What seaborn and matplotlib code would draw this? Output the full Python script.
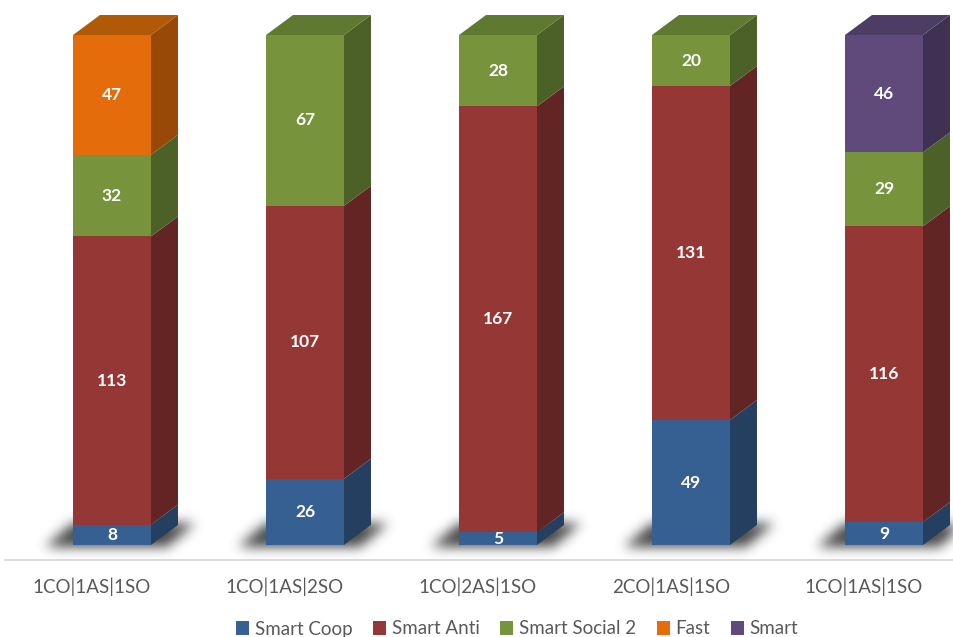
import numpy as np
import pandas as pd
import matplotlib
matplotlib.use("Agg")
import matplotlib.pyplot as plt
import seaborn as sns
from matplotlib.patches import Polygon, Patch
from matplotlib.path import Path
from matplotlib.transforms import ScaledTranslation

# ---- data -------------------------------------------------------------
categories = ["1CO|1AS|1SO", "1CO|1AS|2SO", "1CO|2AS|1SO", "2CO|1AS|1SO", "1CO|1AS|1SO"]
series_names = ["Smart Coop", "Smart Anti", "Smart Social 2", "Fast", "Smart"]
smart_coop = [8, 26, 5, 49, 9]
smart_anti = [113, 107, 167, 131, 116]
smart_social_2 = [32, 67, 28, 20, 29]
fast = [47, 0, 0, 0, 0]
smart = [0, 0, 0, 0, 46]

# ---- colours: front / side / top faces ---------------------------------
front_colors = ["#376092", "#953735", "#77933C", "#E46C0A", "#604A7B"]
side_colors = ["#243F60", "#632523", "#4C6128", "#984807", "#3F3151"]
top_colors = ["#2D5079", "#7C2D2B", "#5F7930", "#B05A08", "#4D3C63"]
text_gray = "#595959"

sns.set_theme(style="white")
plt.rcParams["font.family"] = ["Lato", "DejaVu Sans"]

W_PX, H_PX = 954, 637
fig = plt.figure(figsize=(W_PX / 100, H_PX / 100), dpi=100)
ax_left, ax_bottom, ax_w, ax_h = 5, 77, 949, 560
ax = fig.add_axes([ax_left / W_PX, ax_bottom / H_PX, ax_w / W_PX, ax_h / H_PX])

values = [smart_coop, smart_anti, smart_social_2, fast, smart]
positions = list(range(len(categories)))

# stacked boxes: each series sits on the running total of the ones below
bottom = np.zeros(len(categories))
for name, vals, col in zip(series_names, values, front_colors):
    sns.barplot(x=positions, y=vals, ax=ax, color=col, saturation=1,
                width=0.404, errorbar=None, bottom=bottom.copy(),
                linewidth=0, edgecolor="none", zorder=3)
    bottom += np.asarray(vals, dtype=float)

# axis limits: 193 px per category, 2.55 px per unit
ax.set_xlim(-107 / 193, (W_PX - 112) / 193)
y0 = -15 / 2.55
ax.set_ylim(y0, y0 + ax_h / 2.55)

# depth of the 3-D boxes in data units
inv = ax.transData.inverted()
p0 = inv.transform((0, 0))
p1 = inv.transform((27, 20))
ddx, ddy = p1 - p0

totals = np.sum(np.array(values, dtype=float), axis=0)

for s, cont in enumerate(ax.containers):
    for i, bar in enumerate(cont.patches):
        h = bar.get_height()
        if h <= 0:
            continue
        x0 = bar.get_x()
        x1 = x0 + bar.get_width()
        yb = bar.get_y()
        yt = yb + h
        side = Polygon([(x1, yb), (x1 + ddx, yb + ddy), (x1 + ddx, yt + ddy), (x1, yt)],
                       closed=True, facecolor=side_colors[s], edgecolor="none", zorder=2.9)
        ax.add_patch(side)
        if np.isclose(yt, totals[i]):
            top = Polygon([(x0, yt), (x1, yt), (x1 + ddx, yt + ddy), (x0 + ddx, yt + ddy)],
                          closed=True, facecolor=top_colors[s], edgecolor="none", zorder=2.9)
            ax.add_patch(top)
    labels = [f"{v:g}" if v > 0 else "" for v in values[s]]
    ax.bar_label(cont, labels=labels, label_type="center", color="white",
                 fontweight="bold", fontsize=12.5, zorder=6)

# ---- soft floor shadow under each box ----------------------------------
H, W = ax_h, ax_w
yy, xx = np.mgrid[0:H, 0:W]
pts = np.column_stack([xx.ravel() + 0.5, yy.ravel() + 0.5])
mask = np.zeros(H * W)
for bar in ax.containers[0].patches:
    L, B = ax.transData.transform((bar.get_x(), 0.0))
    R, _ = ax.transData.transform((bar.get_x() + bar.get_width(), 0.0))
    L -= ax_left
    R -= ax_left
    B -= ax_bottom
    poly = Path([(L - 28, B - 2), (R + 16, B - 2), (R + 16 + 28, B + 22), (L, B + 22)])
    mask = np.maximum(mask, poly.contains_points(pts).astype(float))
mask = mask.reshape(H, W)

sigma = 6.0
k = np.arange(-int(3 * sigma), int(3 * sigma) + 1)
kern = np.exp(-0.5 * (k / sigma) ** 2)
kern /= kern.sum()
blur = np.apply_along_axis(lambda r: np.convolve(r, kern, mode="same"), 1, mask)
blur = np.apply_along_axis(lambda c: np.convolve(c, kern, mode="same"), 0, blur)

shadow = np.zeros((H, W, 4))
shadow[..., :3] = 0.15
shadow[..., 3] = np.clip(blur, 0, 1) * 0.85
xl, yl = ax.get_xlim(), ax.get_ylim()
ax.imshow(shadow, origin="lower", extent=(xl[0], xl[1], yl[0], yl[1]),
          aspect="auto", zorder=1, interpolation="bilinear")
ax.set_xlim(xl)
ax.set_ylim(yl)

# ---- axes styling -------------------------------------------------------
for sp in ["top", "left", "right"]:
    ax.spines[sp].set_visible(False)
ax.spines["bottom"].set_color("#D9D9D9")
ax.spines["bottom"].set_linewidth(1.3)
ax.set_yticks([])
ax.set_xticks(positions)
ax.set_xticklabels(categories)
ax.tick_params(axis="x", length=0, pad=12.5, labelsize=13.5, labelcolor=text_gray)
# category names sit under the front-left of the perspective floor
shift = ScaledTranslation(-20 / 100, 0, fig.dpi_scale_trans)
for lab in ax.get_xticklabels():
    lab.set_transform(lab.get_transform() + shift)
ax.set_xlabel("")
ax.set_ylabel("")
ax.set_facecolor("white")

handles = [Patch(facecolor=c, edgecolor="none") for c in front_colors]
fig.legend(handles, series_names, loc="center", bbox_to_anchor=(517 / W_PX, (H_PX - 629) / H_PX),
           ncol=5, frameon=False, fontsize=13.5, handlelength=0.7, handleheight=0.7,
           handletextpad=0.3, columnspacing=1.1, labelcolor=text_gray)

fig.savefig("out.png", dpi=100, facecolor="white")
